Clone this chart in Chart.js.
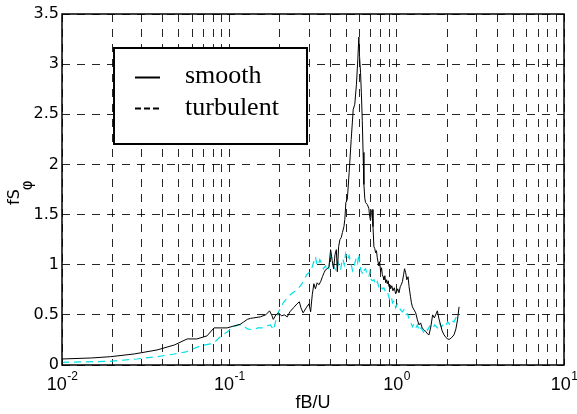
<!DOCTYPE html>
<html>
<head>
<meta charset="utf-8">
<script src="https://cdn.jsdelivr.net/npm/chart.js@4.4.1/dist/chart.umd.min.js"></script>
<style>
  body { margin: 0; background: #fff; }
  canvas { display: block; }
</style>
</head>
<body>
<canvas id="spectrumChart" width="577" height="414"></canvas>
<script>
// --- Données ---
const smoothFreq = [0.010, 0.015, 0.0195, 0.027, 0.037, 0.047, 0.056, 0.064, 0.0735, 0.081, 0.088, 0.097, 0.107, 0.116, 0.122, 0.128, 0.134, 0.140, 0.153, 0.165, 0.174, 0.180, 0.183, 0.190, 0.197, 0.205, 0.213, 0.222, 0.230, 0.243, 0.254, 0.262, 0.268, 0.276, 0.288, 0.299, 0.306, 0.313, 0.320, 0.327, 0.335, 0.343, 0.351, 0.360, 0.368, 0.376, 0.385, 0.394, 0.403, 0.412, 0.420, 0.428, 0.436, 0.442, 0.450, 0.458, 0.466, 0.474, 0.484, 0.490, 0.497, 0.507, 0.520, 0.535, 0.550, 0.562, 0.575, 0.586, 0.594, 0.600, 0.608, 0.615, 0.623, 0.630, 0.637, 0.645, 0.652, 0.668, 0.682, 0.690, 0.698, 0.706, 0.714, 0.722, 0.731, 0.740, 0.748, 0.757, 0.766, 0.775, 0.783, 0.791, 0.802, 0.812, 0.821, 0.830, 0.839, 0.850, 0.860, 0.870, 0.879, 0.890, 0.900, 0.912, 0.921, 0.935, 0.950, 0.968, 0.986, 1.000, 1.015, 1.033, 1.050, 1.065, 1.082, 1.100, 1.115, 1.132, 1.150, 1.170, 1.186, 1.210, 1.225, 1.242, 1.27, 1.30, 1.33, 1.36, 1.39, 1.42, 1.46, 1.50, 1.53, 1.56, 1.60, 1.64, 1.68, 1.72, 1.75, 1.79, 1.83, 1.87, 1.92, 1.96, 2.01, 2.06, 2.12, 2.20, 2.26, 2.31, 2.36];
const smoothSpec = [0.060, 0.070, 0.083, 0.11, 0.15, 0.20, 0.26, 0.26, 0.29, 0.37, 0.37, 0.37, 0.39, 0.405, 0.43, 0.455, 0.465, 0.47, 0.48, 0.50, 0.54, 0.49, 0.455, 0.50, 0.52, 0.49, 0.50, 0.48, 0.53, 0.575, 0.61, 0.63, 0.57, 0.52, 0.57, 0.61, 0.53, 0.70, 0.81, 0.76, 0.82, 0.80, 0.83, 0.88, 0.92, 0.95, 0.96, 0.98, 1.15, 1.04, 0.96, 1.10, 1.15, 0.93, 1.18, 1.25, 1.27, 1.32, 1.38, 1.45, 1.62, 1.65, 1.92, 2.25, 2.55, 2.60, 2.80, 3.05, 3.27, 3.08, 2.92, 2.72, 2.44, 2.12, 1.80, 1.66, 1.62, 1.60, 1.56, 1.48, 1.44, 1.52, 1.55, 1.38, 1.18, 1.16, 1.12, 1.14, 1.07, 1.02, 0.99, 1.03, 0.93, 0.97, 0.90, 0.88, 0.85, 0.89, 0.82, 0.85, 0.81, 0.84, 0.78, 0.80, 0.76, 0.79, 0.74, 0.77, 0.71, 0.73, 0.76, 0.72, 0.78, 0.80, 0.83, 0.90, 0.96, 0.92, 0.85, 0.88, 0.78, 0.68, 0.62, 0.58, 0.55, 0.52, 0.45, 0.40, 0.42, 0.37, 0.35, 0.33, 0.31, 0.30, 0.38, 0.50, 0.47, 0.51, 0.54, 0.46, 0.40, 0.34, 0.30, 0.28, 0.26, 0.255, 0.27, 0.30, 0.36, 0.45, 0.58];

const turbFreq = [0.010, 0.0194, 0.028, 0.037, 0.047, 0.055, 0.067, 0.077, 0.082, 0.088, 0.097, 0.106, 0.113, 0.120, 0.128, 0.140, 0.148, 0.157, 0.166, 0.176, 0.184, 0.190, 0.197, 0.210, 0.222, 0.235, 0.254, 0.266, 0.276, 0.290, 0.299, 0.306, 0.313, 0.320, 0.327, 0.333, 0.340, 0.347, 0.355, 0.365, 0.376, 0.385, 0.394, 0.403, 0.412, 0.420, 0.432, 0.445, 0.454, 0.462, 0.470, 0.477, 0.486, 0.495, 0.507, 0.520, 0.535, 0.545, 0.555, 0.565, 0.575, 0.585, 0.594, 0.603, 0.612, 0.622, 0.630, 0.641, 0.652, 0.665, 0.682, 0.692, 0.700, 0.715, 0.731, 0.748, 0.766, 0.783, 0.800, 0.820, 0.839, 0.860, 0.880, 0.905, 0.925, 0.945, 0.966, 0.986, 1.01, 1.03, 1.055, 1.082, 1.105, 1.13, 1.16, 1.186, 1.21, 1.242, 1.27, 1.30, 1.33, 1.36, 1.40, 1.45, 1.49, 1.53, 1.58, 1.64, 1.69, 1.75, 1.80, 1.85, 1.91, 1.96, 2.02, 2.08, 2.14, 2.20, 2.26, 2.31, 2.36];
const turbSpec = [0.027, 0.037, 0.06, 0.083, 0.11, 0.13, 0.19, 0.21, 0.23, 0.28, 0.33, 0.38, 0.40, 0.40, 0.36, 0.35, 0.37, 0.37, 0.39, 0.40, 0.35, 0.45, 0.53, 0.62, 0.67, 0.71, 0.75, 0.79, 0.83, 0.90, 0.92, 0.94, 0.98, 1.03, 1.08, 1.01, 0.99, 1.05, 1.02, 0.96, 0.99, 0.94, 0.97, 1.10, 1.05, 0.98, 0.95, 1.03, 0.97, 0.95, 1.02, 1.06, 1.00, 1.11, 1.05, 1.09, 1.00, 0.94, 0.97, 1.03, 1.07, 1.02, 1.11, 1.00, 0.94, 0.92, 0.90, 0.95, 0.96, 0.90, 0.88, 0.93, 0.86, 0.84, 0.85, 0.80, 0.83, 0.78, 0.80, 0.76, 0.77, 0.72, 0.73, 0.66, 0.69, 0.62, 0.64, 0.57, 0.61, 0.58, 0.55, 0.53, 0.55, 0.50, 0.51, 0.46, 0.43, 0.38, 0.41, 0.37, 0.40, 0.34, 0.37, 0.33, 0.37, 0.35, 0.39, 0.36, 0.40, 0.37, 0.42, 0.38, 0.41, 0.39, 0.43, 0.40, 0.44, 0.43, 0.47, 0.515, 0.50];

const seriesNames = ['smooth', 'turbulent'];
const yTicks = [0, 0.5, 1, 1.5, 2, 2.5, 3, 3.5];
const xDecades = [0.01, 0.1, 1, 10];
const xDecadeExp = ['-2', '-1', '0', '1'];

// grille log : 1..9 x chaque décade
const xGrid = [];
xDecades.slice(0, -1).forEach(d => {
    for (let m = 1; m <= 9; m++) xGrid.push(Number((m * d).toPrecision(6)));
});
xGrid.push(xDecades[xDecades.length - 1]);

const toPoints = (xs, ys) => xs.map((x, i) => ({ x: x, y: ys[i] }));

// --- Cadre, légende, étiquettes 10^n et titre Y ---
const matlabDecor = {
    id: 'matlabDecor',
    afterDraw(chart) {
        const ctx = chart.ctx;
        const area = chart.chartArea;
        const xs = chart.scales.x;

        ctx.save();
        // cadre
        ctx.strokeStyle = '#000';
        ctx.lineWidth = 1.5;
        ctx.setLineDash([]);
        ctx.strokeRect(area.left, area.top, area.right - area.left, area.bottom - area.top);

        // légende
        ctx.fillStyle = '#fff';
        ctx.fillRect(114, 48, 193, 96);
        ctx.lineWidth = 2;
        ctx.strokeRect(114, 48, 193, 96);
        ctx.beginPath();
        ctx.moveTo(135, 77.5); ctx.lineTo(160, 77.5);
        ctx.stroke();
        ctx.setLineDash([6, 3]);
        ctx.beginPath();
        ctx.moveTo(135, 108.5); ctx.lineTo(161, 108.5);
        ctx.stroke();
        ctx.setLineDash([]);
        ctx.fillStyle = '#000';
        ctx.font = '26px "Liberation Serif", "Times New Roman", serif';
        ctx.textBaseline = 'alphabetic';
        ctx.textAlign = 'left';
        ctx.fillText(seriesNames[0], 185, 83);
        ctx.fillText(seriesNames[1], 185, 115);

        // étiquettes de l'axe x : 10^n
        xDecades.forEach((d, i) => {
            const px = xs.getPixelForValue(d);
            ctx.font = '18px "Liberation Sans", Arial, sans-serif';
            const wBase = ctx.measureText('10').width;
            ctx.font = '12px "Liberation Sans", Arial, sans-serif';
            const wExp = ctx.measureText(xDecadeExp[i]).width;
            const start = px - (wBase + wExp) / 2;
            ctx.font = '18px "Liberation Sans", Arial, sans-serif';
            ctx.fillText('10', start, 390);
            ctx.font = '12px "Liberation Sans", Arial, sans-serif';
            ctx.fillText(xDecadeExp[i], start + wBase + 0.5, 380);
        });

        // titre de l'axe y : fS_phi
        ctx.translate(19, 205);
        ctx.rotate(-Math.PI / 2);
        ctx.font = '16px "DejaVu Sans", sans-serif';
        ctx.fillText('fS', 0, 0);
        const wfs = ctx.measureText('fS').width;
        ctx.font = '15px "DejaVu Sans", sans-serif';
        ctx.fillText('φ', wfs - 1, 13);
        ctx.restore();
    }
};

const ctxSpec = document.getElementById('spectrumChart').getContext('2d');
new Chart(ctxSpec, {
    type: 'line',
    data: {
        datasets: [{
            label: seriesNames[0],
            data: toPoints(smoothFreq, smoothSpec),
            borderColor: '#000',
            borderWidth: 1,
            pointRadius: 0,
            tension: 0,
            fill: false
        }, {
            label: seriesNames[1],
            data: toPoints(turbFreq, turbSpec),
            borderColor: '#00e0e8',
            borderWidth: 1.2,
            borderDash: [7, 5],
            pointRadius: 0,
            tension: 0,
            fill: false
        }]
    },
    options: {
        responsive: false,
        animation: false,
        layout: { padding: { top: 14, right: 13, left: 0, bottom: 0 } },
        plugins: { legend: { display: false }, tooltip: { enabled: false } },
        scales: {
            x: {
                type: 'logarithmic',
                min: 0.01,
                max: 10,
                afterBuildTicks: s => { s.ticks = xGrid.map(v => ({ value: v })); },
                afterFit: s => { s.height = 49; },
                ticks: { display: false },
                grid: { color: 'rgba(0,0,0,0.85)', lineWidth: 1, drawTicks: false },
                border: { display: false, dash: [8, 7] },
                title: {
                    display: true,
                    text: 'fB/U',
                    color: '#000',
                    font: { family: '"Liberation Sans", Arial, sans-serif', size: 18 },
                    padding: { top: 0, bottom: 0 }
                }
            },
            y: {
                type: 'linear',
                min: 0,
                max: 3.5,
                afterBuildTicks: s => { s.ticks = yTicks.map(v => ({ value: v })); },
                afterFit: s => { s.width = 62; },
                ticks: {
                    color: '#000',
                    padding: 3,
                    font: { family: '"DejaVu Sans", sans-serif', size: 16 },
                    callback: v => String(v)
                },
                grid: { color: 'rgba(0,0,0,0.85)', lineWidth: 1, drawTicks: false },
                border: { display: false, dash: [8, 7] }
            }
        }
    },
    plugins: [matlabDecor]
});
</script>
</body>
</html>
